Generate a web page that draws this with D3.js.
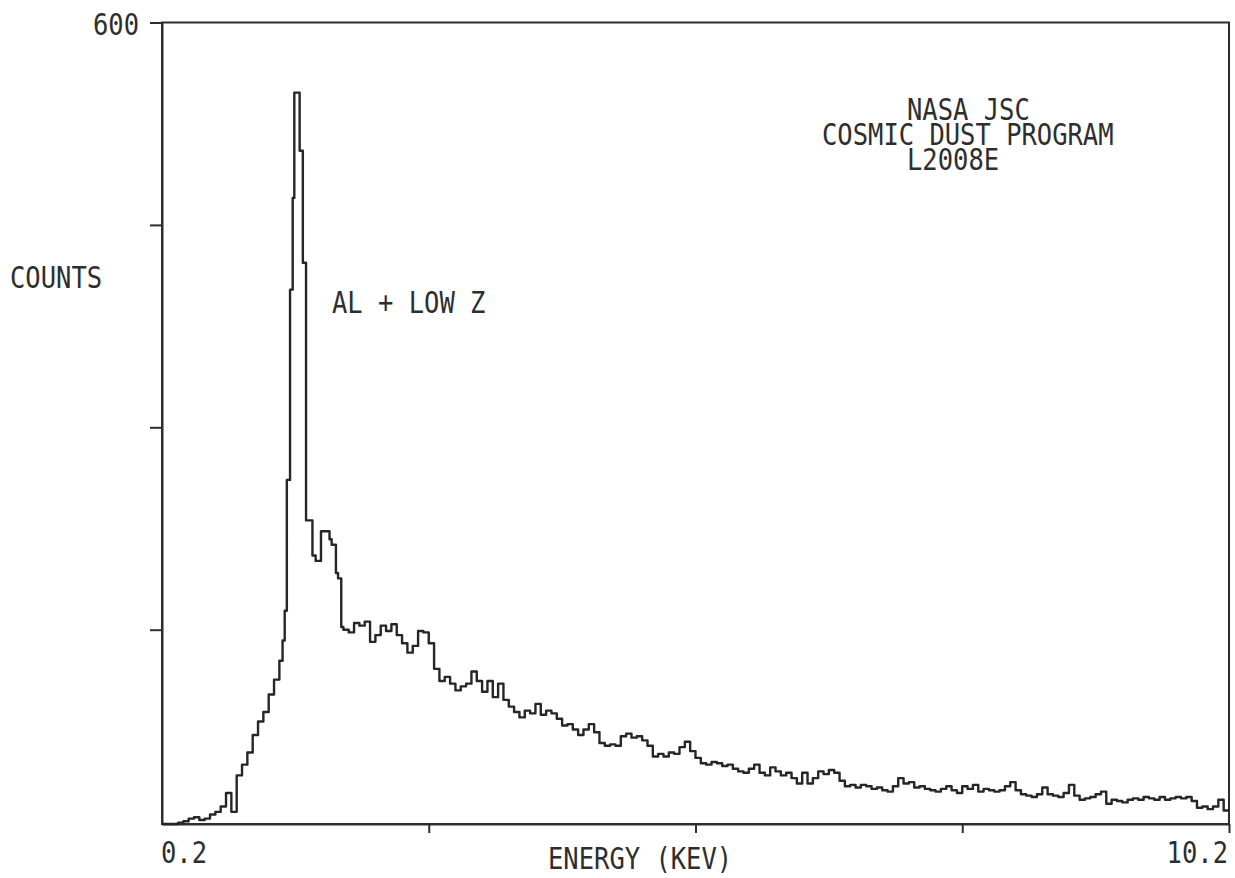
<!DOCTYPE html>
<html>
<head>
<meta charset="utf-8">
<script src="https://cdn.jsdelivr.net/npm/d3@7"></script>
<style>
  html, body { margin: 0; padding: 0; background: #ffffff; }
  svg { display: block; }
  text { font-family: "DejaVu Sans Mono", "Liberation Mono", monospace; fill: #2e2e2e; }
</style>
</head>
<body>
<svg id="chart" width="1235" height="878"></svg>
<script>
// ---- data ----
// energy (keV) at which each histogram step starts
const stepEnergy = [
  0.20,0.25,0.30,0.35,0.40,0.45,0.50,0.55,0.60,0.65,0.70,0.75,0.80,0.85,0.90,0.95,
  1.00,1.05,1.10,1.15,1.20,1.25,1.30,1.33,1.35,1.37,1.40,1.425,1.44,1.49,1.52,1.55,
  1.61,1.64,1.69,1.77,1.79,1.83,1.85,1.88,
  1.90,1.95,2.00,2.05,2.10,2.15,2.20,2.25,2.30,2.35,2.40,2.45,2.50,2.55,2.60,2.65,
  2.70,2.75,2.80,2.85,2.90,2.95,3.00,3.05,3.10,3.15,3.20,3.25,3.30,3.35,3.40,3.45,
  3.50,3.55,3.60,3.65,3.70,3.75,3.80,3.85,3.90,3.95,4.00,4.05,4.10,4.15,4.20,4.25,
  4.30,4.35,4.40,4.45,4.50,4.55,4.60,4.65,4.70,4.75,4.80,4.85,4.90,4.95,5.00,5.05,
  5.10,5.15,5.20,5.25,5.30,5.35,5.40,5.45,5.50,5.55,5.60,5.65,5.70,5.75,5.80,5.85,
  5.90,5.95,6.00,6.05,6.10,6.15,6.20,6.25,6.30,6.35,6.40,6.45,6.50,6.55,6.60,6.65,
  6.70,6.75,6.80,6.85,6.90,6.95,7.00,7.05,7.10,7.15,7.20,7.25,7.30,7.35,7.40,7.45,
  7.50,7.55,7.60,7.65,7.70,7.75,7.80,7.85,7.90,7.95,8.00,8.05,8.10,8.15,8.20,8.25,
  8.30,8.35,8.40,8.45,8.50,8.55,8.60,8.65,8.70,8.75,8.80,8.85,8.90,8.95,9.00,9.05,
  9.10,9.15,9.20,9.25,9.30,9.35,9.40,9.45,9.50,9.55,9.60,9.65,9.70,9.75,9.80,9.85,
  9.90,9.95,10.00,10.05,10.10,10.15
];
// counts in each step
const stepCounts = [
  2,3,6,7,8,10,11,9,10,13,15,19,29,15,42,50,
  59,72,82,89,102,113,127,142,164,261,402,470,548,505,422,231,
  205,201,223,217,213,192,188,152,
  150,148,155,153,156,141,146,153,149,154,146,140,133,138,149,148,
  140,121,112,115,110,105,108,110,119,112,104,112,100,110,98,93,
  89,85,90,88,95,87,90,88,84,79,80,76,72,76,80,74,
  66,64,65,64,71,73,70,71,68,64,56,58,56,59,58,63,
  67,60,55,51,50,52,51,49,50,47,45,44,47,50,44,42,
  48,45,42,44,40,36,44,36,40,45,43,46,44,38,34,35,
  33,35,34,32,33,31,30,34,40,36,37,33,34,32,31,30,
  32,34,31,29,34,32,35,30,32,31,30,31,34,37,31,28,
  27,26,28,33,28,27,26,29,35,27,24,25,26,28,30,21,
  24,23,22,24,25,24,26,25,24,26,24,25,26,25,26,23,
  18,19,17,19,24,16
];
const energyDomain = [0.2, 10.2];
const countDomain = [6, 600];
const xTickValues = [2.7, 5.2, 7.7, 10.2];
const yTickValues = [150, 300, 450, 600];
const xEndLabels = ["0.2", "10.2"];
const yTopLabel = "600";
const yTitle = "COUNTS";
const xTitle = "ENERGY (KEV)";
const peakLabel = "AL + LOW Z";
const infoLines = ["NASA JSC", "COSMIC DUST PROGRAM", "L2008E"];

(function () {
  const svg = d3.select("#chart");
  const ink = "#2e2e2e";
  const mLeft = 162, mRight = 1229, mTop = 22.5, mBottom = 824;

  const x = d3.scaleLinear().domain(energyDomain).range([mLeft, mRight]);
  const y = d3.scaleLinear().domain(countDomain).range([mBottom, mTop]).clamp(true);

  // frame
  svg.append("rect")
    .attr("x", mLeft).attr("y", mTop)
    .attr("width", mRight - mLeft).attr("height", mBottom - mTop)
    .attr("fill", "none").attr("stroke", ink).attr("stroke-width", 2);

  // y axis ticks
  const yAxis = d3.axisLeft(y).tickValues(yTickValues).tickSize(12).tickSizeOuter(0).tickFormat("");
  const gy = svg.append("g").attr("transform", `translate(${mLeft},0)`).call(yAxis);
  gy.select(".domain").attr("stroke", ink).attr("stroke-width", 2);
  gy.selectAll(".tick line").attr("stroke", ink).attr("stroke-width", 2);

  // x axis ticks
  const xAxis = d3.axisBottom(x).tickValues(xTickValues).tickSize(9).tickSizeOuter(0).tickFormat("");
  const gx = svg.append("g").attr("transform", `translate(0,${mBottom})`).call(xAxis);
  gx.select(".domain").attr("stroke", ink).attr("stroke-width", 2);
  gx.selectAll(".tick line").attr("stroke", ink).attr("stroke-width", 2);

  // spectrum as histogram steps
  const pts = stepEnergy.map((e, i) => [e, stepCounts[i]]);
  pts.push([energyDomain[1], stepCounts[stepCounts.length - 1]]);
  const line = d3.line()
    .x(d => x(d[0]))
    .y(d => y(d[1]))
    .curve(d3.curveStepAfter);
  svg.append("path")
    .datum(pts)
    .attr("d", line)
    .attr("fill", "none")
    .attr("stroke", "#262626")
    .attr("stroke-width", 2.4)
    .attr("stroke-linejoin", "round");

  // condensed plotter-like lettering
  function label(str, tx, ty, anchor) {
    return svg.append("g")
      .attr("transform", `translate(${tx},${ty}) scale(0.85,1)`)
      .append("text")
      .attr("x", 0).attr("y", 0)
      .attr("text-anchor", anchor || "start")
      .attr("font-size", 30)
      .text(str);
  }

  label(yTopLabel, 139, 35, "end");
  label(yTitle, 10, 288, "start");
  label(xEndLabels[0], 161, 863, "start");
  label(xEndLabels[1], 1228, 863, "end");
  label(xTitle, 548, 869, "start");
  label(peakLabel, 332, 313, "start");

  // info block as one multi-line text
  const info = svg.append("g")
    .attr("transform", `translate(907,120) scale(0.85,1)`)
    .append("text")
    .attr("font-size", 30);
  const lineStarts = [0, -100, 0];   // per-line horizontal offsets (unscaled units)
  infoLines.forEach((s, i) => {
    info.append("tspan")
      .attr("x", lineStarts[i])
      .attr("y", i * 25)
      .text(s);
  });
})();
</script>
</body>
</html>
